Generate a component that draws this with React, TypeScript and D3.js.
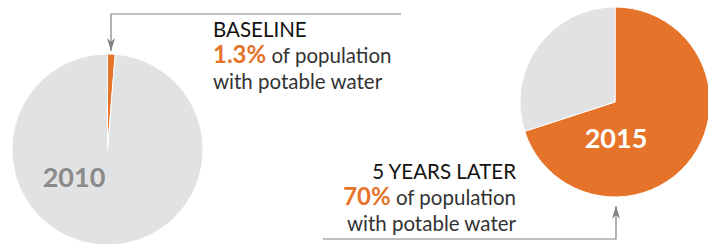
import { useEffect, useRef } from 'react';
import * as d3 from 'd3';

const years = ['2010', '2015'];
const shares = [1.3, 70];
const headings = ['BASELINE', '5 YEARS LATER'];
const tailText = ['of population', 'with potable water'];

const W = 708;
const H = 244;
const ORANGE = '#e5732a';
const GREY = '#e1e2e3';
const FONT = 'Lato, "Open Sans", sans-serif';

export default function App() {
  const svgRef = useRef<SVGSVGElement>(null);

  useEffect(() => {
    if (!svgRef.current) return;
    const svg = d3.select(svgRef.current);
    svg.selectAll('*').remove();

    const pies = [
      { cx: 107.5, cy: 149.5, r: 95.5 },
      { cx: 615, cy: 102, r: 95 },
    ];

    const pie = d3.pie<number>().sort(null).value(d => d);

    const defs = svg.append('defs');
    defs.append('marker')
      .attr('id', 'arrow')
      .attr('viewBox', '0 0 10 10')
      .attr('refX', 10)
      .attr('refY', 5)
      .attr('markerWidth', 13)
      .attr('markerHeight', 8)
      .attr('orient', 'auto')
      .attr('markerUnits', 'userSpaceOnUse')
      .attr('preserveAspectRatio', 'none')
      .append('path')
      .attr('d', 'M0,0 L10,5 L0,10 L3,5 Z')
      .attr('fill', '#808080');

    pies.forEach((p, i) => {
      const arc = d3.arc<d3.PieArcDatum<number>>().innerRadius(0).outerRadius(p.r);
      const g = svg.append('g').attr('transform', `translate(${p.cx},${p.cy})`);
      g.selectAll('path')
        .data(pie([shares[i], 100 - shares[i]]))
        .enter().append('path')
        .attr('d', arc)
        .attr('fill', (_, j) => (j === 0 ? ORANGE : GREY))
        .attr('stroke', '#fff')
        .attr('stroke-width', 1);
    });

    // year labels
    svg.append('text')
      .attr('x', 74).attr('y', 187)
      .attr('text-anchor', 'middle')
      .attr('font-family', FONT).attr('font-weight', 700)
      .attr('font-size', 27).attr('fill', '#8a8a8a')
      .text(years[0]);
    svg.append('text')
      .attr('x', 616).attr('y', 148)
      .attr('text-anchor', 'middle')
      .attr('font-family', FONT).attr('font-weight', 700)
      .attr('font-size', 27).attr('fill', '#fff')
      .text(years[1]);

    // connectors
    svg.append('path')
      .attr('d', `M401,14 H111 V51`)
      .attr('fill', 'none').attr('stroke', '#808080').attr('stroke-width', 1.2)
      .attr('marker-end', 'url(#arrow)');
    svg.append('path')
      .attr('d', `M323,239 H616 V206`)
      .attr('fill', 'none').attr('stroke', '#808080').attr('stroke-width', 1.2)
      .attr('marker-end', 'url(#arrow)');

    // annotations
    const blocks = [
      { x: 213, y: 37, anchor: 'start' },
      { x: 516, y: 179, anchor: 'end' },
    ];
    blocks.forEach((b, i) => {
      const t = svg.append('text')
        .attr('x', b.x).attr('y', b.y)
        .attr('text-anchor', b.anchor)
        .attr('font-family', FONT)
        .attr('font-size', 20.5);
      t.append('tspan').attr('x', b.x).attr('fill', '#111').text(headings[i]);
      const l2 = t.append('tspan').attr('x', b.x).attr('dy', 26);
      l2.append('tspan').attr('fill', ORANGE).attr('font-weight', 700).attr('font-size', 24)
        .text(`${shares[i]}%`);
      l2.append('tspan').attr('fill', '#333').text(` ${tailText[0]}`);
      t.append('tspan').attr('x', b.x).attr('dy', 26).attr('fill', '#333').text(tailText[1]);
    });
  }, []);

  return (
    <svg
      ref={svgRef}
      width={W}
      height={H}
      style={{ position: 'absolute', left: 0, top: 0, background: '#fff' }}
    />
  );
}
